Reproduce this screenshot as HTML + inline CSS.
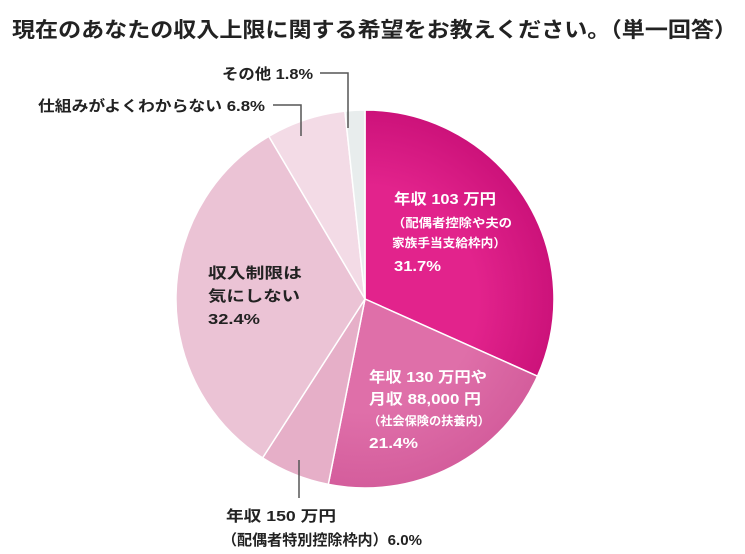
<!DOCTYPE html>
<html><head><meta charset="utf-8"><style>
body{margin:0;background:#fff;}
svg{display:block;font-family:"Liberation Sans","Noto Sans CJK JP",sans-serif;}
</style></head><body>
<svg width="745" height="554" viewBox="0 0 745 554" xmlns="http://www.w3.org/2000/svg">
<defs>
<radialGradient id="g1" cx="365" cy="299" r="189" gradientUnits="userSpaceOnUse"><stop offset="0.6" stop-color="#e2238c"/><stop offset="1" stop-color="#cc127a"/></radialGradient>
<radialGradient id="g2" cx="365" cy="299" r="189" gradientUnits="userSpaceOnUse"><stop offset="0.6" stop-color="#df6fa9"/><stop offset="1" stop-color="#d45d9c"/></radialGradient>
</defs>
<text x="12" y="37" font-size="21" font-weight="bold" fill="#222" textLength="725" lengthAdjust="spacingAndGlyphs">現在のあなたの収入上限に関する希望をお教えください。（単一回答）</text>
<g stroke="#fff" stroke-width="1.5">
<path d="M365,299 L365,110 A189,189 0 0 1 537.5,376.2 Z" fill="url(#g1)"/>
<path d="M365,299 L537.5,376.2 A189,189 0 0 1 328.3,484.4 Z" fill="url(#g2)"/>
<path d="M365,299 L328.3,484.4 A189,189 0 0 1 262.6,457.9 Z" fill="#e6afc8"/>
<path d="M365,299 L262.6,457.9 A189,189 0 0 1 268.8,136.3 Z" fill="#ebc3d5"/>
<path d="M365,299 L268.8,136.3 A189,189 0 0 1 344.9,111.1 Z" fill="#f3dbe6"/>
<path d="M365,299 L344.9,111.1 A189,189 0 0 1 365,110 Z" fill="#e8eded"/>
</g>
<g stroke="#555" stroke-width="1.5" fill="none">
<polyline points="320,73 348,73 348,128"/>
<polyline points="273,105 301,105 301,136"/>
<line x1="299" y1="460" x2="299" y2="498"/>
</g>
<g font-size="15" font-weight="bold" fill="#222" lengthAdjust="spacingAndGlyphs">
<text x="222" y="79" textLength="91" lengthAdjust="spacingAndGlyphs">その他 1.8%</text>
<text x="38" y="111" textLength="227" lengthAdjust="spacingAndGlyphs">仕組みがよくわからない 6.8%</text>
<text x="226" y="521" textLength="110" lengthAdjust="spacingAndGlyphs">年収 150 万円</text>
<text x="222" y="545" textLength="200" lengthAdjust="spacingAndGlyphs">（配偶者特別控除枠内）6.0%</text>
<text x="208" y="278" textLength="94" lengthAdjust="spacingAndGlyphs">収入制限は</text>
<text x="208" y="301" textLength="92" lengthAdjust="spacingAndGlyphs">気にしない</text>
<text x="208" y="324" textLength="52" lengthAdjust="spacingAndGlyphs">32.4%</text>
</g>
<g fill="#fff" font-weight="bold">
<text x="394" y="204" font-size="15" textLength="102" lengthAdjust="spacingAndGlyphs">年収 103 万円</text>
<text x="392" y="227" font-size="12" textLength="120" lengthAdjust="spacingAndGlyphs">（配偶者控除や夫の</text>
<text x="392" y="247" font-size="12" textLength="114" lengthAdjust="spacingAndGlyphs">家族手当支給枠内）</text>
<text x="394" y="271" font-size="15" textLength="47" lengthAdjust="spacingAndGlyphs">31.7%</text>
<text x="369" y="382" font-size="15" textLength="118" lengthAdjust="spacingAndGlyphs">年収 130 万円や</text>
<text x="369" y="404" font-size="15" textLength="112" lengthAdjust="spacingAndGlyphs">月収 88,000 円</text>
<text x="368" y="425" font-size="12" textLength="122" lengthAdjust="spacingAndGlyphs">（社会保険の扶養内）</text>
<text x="369" y="448" font-size="15" textLength="49" lengthAdjust="spacingAndGlyphs">21.4%</text>
</g>
</svg>
</body></html>
